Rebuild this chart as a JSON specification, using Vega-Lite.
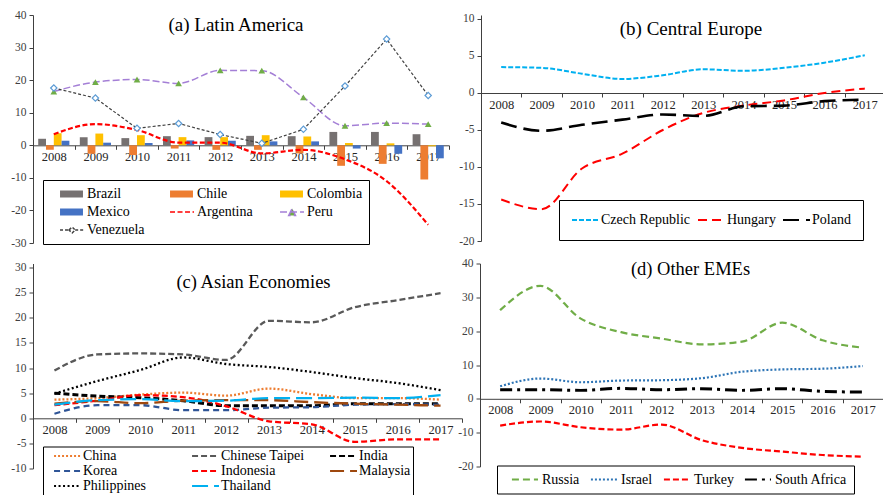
{
"$schema": "https://vega.github.io/schema/vega-lite/v6.json",
"background": "white",
"padding": {"left": 10, "top": 9, "right": 0, "bottom": 0},
"config": {
  "view": {"stroke": null},
  "font": "Liberation Serif",
  "axisX": {"labelFont": "Liberation Serif", "labelFontSize": 12.5, "labelAngle": 0, "tickBand": "extent", "tickSize": 4, "labelPadding": 1, "domainColor": "#404040", "tickColor": "#404040", "labelColor": "#262626", "grid": false},
  "axisY": {"labelFont": "Liberation Serif", "labelFontSize": 11.5, "tickSize": 4, "labelPadding": 3, "domainColor": "#404040", "tickColor": "#404040", "labelColor": "#404040", "grid": false, "labelExpr": "'' + datum.value"}
},
"datasets": {
"la": [
{"year":"2008","series":"Brazil","value":2.0},{"year":"2009","series":"Brazil","value":2.5},{"year":"2010","series":"Brazil","value":2.2},{"year":"2011","series":"Brazil","value":2.8},{"year":"2012","series":"Brazil","value":2.5},{"year":"2013","series":"Brazil","value":2.9},{"year":"2014","series":"Brazil","value":2.8},{"year":"2015","series":"Brazil","value":4.1},{"year":"2016","series":"Brazil","value":4.1},{"year":"2017","series":"Brazil","value":3.4},
{"year":"2008","series":"Chile","value":-1.4},{"year":"2009","series":"Chile","value":-2.6},{"year":"2010","series":"Chile","value":-3.0},{"year":"2011","series":"Chile","value":-1.0},{"year":"2012","series":"Chile","value":-1.4},{"year":"2013","series":"Chile","value":-1.4},{"year":"2014","series":"Chile","value":-2.5},{"year":"2015","series":"Chile","value":-6.3},{"year":"2016","series":"Chile","value":-5.7},{"year":"2017","series":"Chile","value":-10.5},
{"year":"2008","series":"Colombia","value":3.7},{"year":"2009","series":"Colombia","value":3.6},{"year":"2010","series":"Colombia","value":3.1},{"year":"2011","series":"Colombia","value":2.5},{"year":"2012","series":"Colombia","value":2.5},{"year":"2013","series":"Colombia","value":3.1},{"year":"2014","series":"Colombia","value":2.7},{"year":"2015","series":"Colombia","value":0.7},{"year":"2016","series":"Colombia","value":0.6},{"year":"2017","series":"Colombia","value":-0.3},
{"year":"2008","series":"Mexico","value":1.4},{"year":"2009","series":"Mexico","value":0.8},{"year":"2010","series":"Mexico","value":0.7},{"year":"2011","series":"Mexico","value":1.5},{"year":"2012","series":"Mexico","value":1.4},{"year":"2013","series":"Mexico","value":1.2},{"year":"2014","series":"Mexico","value":1.2},{"year":"2015","series":"Mexico","value":-1.0},{"year":"2016","series":"Mexico","value":-2.6},{"year":"2017","series":"Mexico","value":-4.0},
{"year":"2008","series":"Argentina","value":3.4},{"year":"2009","series":"Argentina","value":6.5},{"year":"2010","series":"Argentina","value":4.7},{"year":"2011","series":"Argentina","value":0.8},{"year":"2012","series":"Argentina","value":0.8},{"year":"2013","series":"Argentina","value":-2.5},{"year":"2014","series":"Argentina","value":-1.4},{"year":"2015","series":"Argentina","value":-4.3},{"year":"2016","series":"Argentina","value":-11.0},{"year":"2017","series":"Argentina","value":-24.4},
{"year":"2008","series":"Peru","value":16.5},{"year":"2009","series":"Peru","value":19.4},{"year":"2010","series":"Peru","value":20.2},{"year":"2011","series":"Peru","value":19.0},{"year":"2012","series":"Peru","value":23.0},{"year":"2013","series":"Peru","value":22.9},{"year":"2014","series":"Peru","value":14.7},{"year":"2015","series":"Peru","value":6.0},{"year":"2016","series":"Peru","value":6.8},{"year":"2017","series":"Peru","value":6.5},
{"year":"2008","series":"Venezuela","value":17.6},{"year":"2009","series":"Venezuela","value":14.5},{"year":"2010","series":"Venezuela","value":5.2},{"year":"2011","series":"Venezuela","value":6.7},{"year":"2012","series":"Venezuela","value":3.3},{"year":"2013","series":"Venezuela","value":0.6},{"year":"2014","series":"Venezuela","value":4.9},{"year":"2015","series":"Venezuela","value":18.2},{"year":"2016","series":"Venezuela","value":32.6},{"year":"2017","series":"Venezuela","value":15.3}
],
"ce": [
{"year":"2008","series":"Czech Republic","value":3.5},{"year":"2009","series":"Czech Republic","value":3.4},{"year":"2010","series":"Czech Republic","value":2.6},{"year":"2011","series":"Czech Republic","value":1.9},{"year":"2012","series":"Czech Republic","value":2.4},{"year":"2013","series":"Czech Republic","value":3.2},{"year":"2014","series":"Czech Republic","value":3.0},{"year":"2015","series":"Czech Republic","value":3.4},{"year":"2016","series":"Czech Republic","value":4.1},{"year":"2017","series":"Czech Republic","value":5.1},
{"year":"2008","series":"Hungary","value":-14.4},{"year":"2009","series":"Hungary","value":-15.7},{"year":"2010","series":"Hungary","value":-10.2},{"year":"2011","series":"Hungary","value":-8.2},{"year":"2012","series":"Hungary","value":-5.0},{"year":"2013","series":"Hungary","value":-2.7},{"year":"2014","series":"Hungary","value":-1.7},{"year":"2015","series":"Hungary","value":-1.0},{"year":"2016","series":"Hungary","value":0.0},{"year":"2017","series":"Hungary","value":0.6},
{"year":"2008","series":"Poland","value":-4.0},{"year":"2009","series":"Poland","value":-5.1},{"year":"2010","series":"Poland","value":-4.3},{"year":"2011","series":"Poland","value":-3.6},{"year":"2012","series":"Poland","value":-2.9},{"year":"2013","series":"Poland","value":-3.1},{"year":"2014","series":"Poland","value":-1.8},{"year":"2015","series":"Poland","value":-1.7},{"year":"2016","series":"Poland","value":-1.1},{"year":"2017","series":"Poland","value":-0.9}
],
"asia": [
{"year":"2008","series":"China","value":3.7},{"year":"2009","series":"China","value":4.0},{"year":"2010","series":"China","value":4.7},{"year":"2011","series":"China","value":5.1},{"year":"2012","series":"China","value":4.5},{"year":"2013","series":"China","value":5.9},{"year":"2014","series":"China","value":4.8},{"year":"2015","series":"China","value":4.0},{"year":"2016","series":"China","value":4.0},{"year":"2017","series":"China","value":3.7},
{"year":"2008","series":"Chinese Taipei","value":9.5},{"year":"2009","series":"Chinese Taipei","value":12.7},{"year":"2010","series":"Chinese Taipei","value":12.9},{"year":"2011","series":"Chinese Taipei","value":12.7},{"year":"2012","series":"Chinese Taipei","value":11.6},{"year":"2013","series":"Chinese Taipei","value":19.4},{"year":"2014","series":"Chinese Taipei","value":19.1},{"year":"2015","series":"Chinese Taipei","value":22.1},{"year":"2016","series":"Chinese Taipei","value":23.5},{"year":"2017","series":"Chinese Taipei","value":24.9},
{"year":"2008","series":"India","value":5.0},{"year":"2009","series":"India","value":4.4},{"year":"2010","series":"India","value":4.1},{"year":"2011","series":"India","value":3.5},{"year":"2012","series":"India","value":2.5},{"year":"2013","series":"India","value":2.5},{"year":"2014","series":"India","value":2.5},{"year":"2015","series":"India","value":2.9},{"year":"2016","series":"India","value":2.9},{"year":"2017","series":"India","value":2.9},
{"year":"2008","series":"Korea","value":0.9},{"year":"2009","series":"Korea","value":2.6},{"year":"2010","series":"Korea","value":2.6},{"year":"2011","series":"Korea","value":1.6},{"year":"2012","series":"Korea","value":1.6},{"year":"2013","series":"Korea","value":2.1},{"year":"2014","series":"Korea","value":2.2},{"year":"2015","series":"Korea","value":2.7},{"year":"2016","series":"Korea","value":2.8},{"year":"2017","series":"Korea","value":2.7},
{"year":"2008","series":"Indonesia","value":2.6},{"year":"2009","series":"Indonesia","value":3.5},{"year":"2010","series":"Indonesia","value":4.6},{"year":"2011","series":"Indonesia","value":4.2},{"year":"2012","series":"Indonesia","value":2.4},{"year":"2013","series":"Indonesia","value":-0.6},{"year":"2014","series":"Indonesia","value":-1.2},{"year":"2015","series":"Indonesia","value":-4.7},{"year":"2016","series":"Indonesia","value":-4.2},{"year":"2017","series":"Indonesia","value":-4.2},
{"year":"2008","series":"Malaysia","value":2.9},{"year":"2009","series":"Malaysia","value":3.4},{"year":"2010","series":"Malaysia","value":3.0},{"year":"2011","series":"Malaysia","value":3.5},{"year":"2012","series":"Malaysia","value":3.6},{"year":"2013","series":"Malaysia","value":3.6},{"year":"2014","series":"Malaysia","value":3.2},{"year":"2015","series":"Malaysia","value":2.9},{"year":"2016","series":"Malaysia","value":2.7},{"year":"2017","series":"Malaysia","value":2.5},
{"year":"2008","series":"Philippines","value":4.9},{"year":"2009","series":"Philippines","value":7.4},{"year":"2010","series":"Philippines","value":9.6},{"year":"2011","series":"Philippines","value":12.1},{"year":"2012","series":"Philippines","value":10.8},{"year":"2013","series":"Philippines","value":10.2},{"year":"2014","series":"Philippines","value":9.2},{"year":"2015","series":"Philippines","value":8.0},{"year":"2016","series":"Philippines","value":7.0},{"year":"2017","series":"Philippines","value":5.6},
{"year":"2008","series":"Thailand","value":2.7},{"year":"2009","series":"Thailand","value":3.6},{"year":"2010","series":"Thailand","value":3.8},{"year":"2011","series":"Thailand","value":3.4},{"year":"2012","series":"Thailand","value":3.5},{"year":"2013","series":"Thailand","value":4.0},{"year":"2014","series":"Thailand","value":4.0},{"year":"2015","series":"Thailand","value":4.1},{"year":"2016","series":"Thailand","value":4.0},{"year":"2017","series":"Thailand","value":4.6}
],
"other": [
{"year":"2008","series":"Russia","value":26.2},{"year":"2009","series":"Russia","value":33.4},{"year":"2010","series":"Russia","value":23.7},{"year":"2011","series":"Russia","value":19.7},{"year":"2012","series":"Russia","value":17.8},{"year":"2013","series":"Russia","value":16.1},{"year":"2014","series":"Russia","value":16.9},{"year":"2015","series":"Russia","value":22.5},{"year":"2016","series":"Russia","value":17.3},{"year":"2017","series":"Russia","value":15.1},
{"year":"2008","series":"Israel","value":3.7},{"year":"2009","series":"Israel","value":6.0},{"year":"2010","series":"Israel","value":4.9},{"year":"2011","series":"Israel","value":5.4},{"year":"2012","series":"Israel","value":5.5},{"year":"2013","series":"Israel","value":6.1},{"year":"2014","series":"Israel","value":8.0},{"year":"2015","series":"Israel","value":8.7},{"year":"2016","series":"Israel","value":8.9},{"year":"2017","series":"Israel","value":9.7},
{"year":"2008","series":"Turkey","value":-7.9},{"year":"2009","series":"Turkey","value":-6.7},{"year":"2010","series":"Turkey","value":-8.4},{"year":"2011","series":"Turkey","value":-9.1},{"year":"2012","series":"Turkey","value":-7.6},{"year":"2013","series":"Turkey","value":-12.2},{"year":"2014","series":"Turkey","value":-14.5},{"year":"2015","series":"Turkey","value":-15.6},{"year":"2016","series":"Turkey","value":-16.6},{"year":"2017","series":"Turkey","value":-17.1},
{"year":"2008","series":"South Africa","value":2.7},{"year":"2009","series":"South Africa","value":2.7},{"year":"2010","series":"South Africa","value":2.5},{"year":"2011","series":"South Africa","value":3.1},{"year":"2012","series":"South Africa","value":2.7},{"year":"2013","series":"South Africa","value":3.0},{"year":"2014","series":"South Africa","value":2.5},{"year":"2015","series":"South Africa","value":3.0},{"year":"2016","series":"South Africa","value":2.2},{"year":"2017","series":"South Africa","value":2.0}
]
},
"spacing": 8.5,
"resolve": {
  "scale": {"color": "independent", "strokeDash": "independent", "fill": "independent", "stroke": "independent", "shape": "independent"},
  "legend": {"color": "independent", "strokeDash": "independent", "fill": "independent", "stroke": "independent", "shape": "independent"}
},
"vconcat": [
{
"spacing": 8,
"resolve": {
  "scale": {"color": "independent", "strokeDash": "independent", "fill": "independent", "stroke": "independent", "shape": "independent"},
  "legend": {"color": "independent", "strokeDash": "independent", "fill": "independent", "stroke": "independent", "shape": "independent"}
},
"hconcat": [
{
  "width": 416, "height": 228,
  "data": {"name": "la"},
  "title": {"text": "(a) Latin America", "font": "Liberation Serif", "fontSize": 19, "fontWeight": "normal", "color": "#000000", "anchor": "middle", "frame": "group", "offset": -26, "dx": -5},
  "encoding": {
    "x": {"field": "year", "type": "ordinal", "title": null, "scale": {"type": "band", "paddingInner": 0, "paddingOuter": 0}, "axis": {"offset": -97.7}},
    "y": {"field": "value", "type": "quantitative", "title": null, "scale": {"domain": [-30, 40], "nice": false, "zero": false}, "axis": {"values": [-30, -20, -10, 0, 10, 20, 30, 40]}}
  },
  "layer": [
    {
      "transform": [{"filter": {"field": "series", "oneOf": ["Brazil", "Chile", "Colombia", "Mexico"]}}],
      "mark": {"type": "bar"},
      "encoding": {
        "xOffset": {"field": "series", "type": "nominal", "scale": {"domain": ["Brazil", "Chile", "Colombia", "Mexico"], "paddingInner": 0, "paddingOuter": 0.67}},
        "color": {"field": "series", "type": "nominal", "legend": null,
          "scale": {"domain": ["Brazil", "Chile", "Colombia", "Mexico"], "range": ["#767171", "#ED7D31", "#FFC000", "#4472C4"]}}
      }
    },
    {
      "transform": [{"filter": {"field": "series", "equal": "Argentina"}}],
      "mark": {"type": "line", "interpolate": "monotone", "color": "#FF0000", "strokeDash": [5, 2.5], "strokeWidth": 2.2},
      "encoding": {}
    },
    {
      "transform": [{"filter": {"field": "series", "equal": "Peru"}}],
      "mark": {"type": "line", "interpolate": "monotone", "color": "#A47FD6", "strokeDash": [7, 3], "strokeWidth": 1.5},
      "encoding": {}
    },
    {
      "transform": [{"filter": {"field": "series", "equal": "Venezuela"}}],
      "mark": {"type": "line", "color": "#404040", "strokeDash": [3, 2], "strokeWidth": 1.2},
      "encoding": {}
    },
    {
      "transform": [{"filter": {"field": "series", "equal": "Peru"}}],
      "mark": {"type": "point", "shape": "triangle-up", "filled": true, "color": "#70AD47", "size": 45, "opacity": 1},
      "encoding": {}
    },
    {
      "transform": [{"filter": {"field": "series", "equal": "Venezuela"}}],
      "mark": {"type": "point", "shape": "diamond", "filled": true, "fill": "#ffffff", "stroke": "#5B9BD5", "strokeWidth": 1.2, "size": 40, "opacity": 1},
      "encoding": {}
    },
    {
      "transform": [{"filter": "false"}],
      "mark": {"type": "point", "opacity": 1},
      "encoding": {
        "fill": {"field": "series", "type": "nominal",
          "scale": {"domain": ["Brazil", "Chile", "Colombia", "Mexico", "Argentina", "Peru", "Venezuela"], "range": ["#767171", "#ED7D31", "#FFC000", "#4472C4", "transparent", "#70AD47", "#ffffff"]},
          "legend": {"title": null, "orient": "none", "direction": "horizontal", "legendX": 10, "legendY": 165, "columns": 3, "gridAlign": "all", "columnPadding": 14, "rowPadding": 2, "clipHeight": 16, "padding": 6, "strokeColor": "#000000", "fillColor": "#ffffff", "labelFont": "Liberation Serif", "labelFontSize": 14, "labelColor": "#000000", "labelOffset": 2, "labelLimit": 300, "symbolSize": 1156, "symbolStrokeWidth": 1.5, "symbolOpacity": 1}},
        "stroke": {"field": "series", "type": "nominal",
          "scale": {"domain": ["Brazil", "Chile", "Colombia", "Mexico", "Argentina", "Peru", "Venezuela"], "range": ["transparent", "transparent", "transparent", "transparent", "#FF0000", "#A47FD6", "#404040"]},
          "legend": {"title": null, "orient": "none", "direction": "horizontal", "legendX": 10, "legendY": 165, "columns": 3, "gridAlign": "all", "columnPadding": 14, "rowPadding": 2, "clipHeight": 16, "padding": 6, "strokeColor": "#000000", "fillColor": "#ffffff", "labelFont": "Liberation Serif", "labelFontSize": 14, "labelColor": "#000000", "labelOffset": 2, "labelLimit": 300, "symbolSize": 1156, "symbolStrokeWidth": 1.5, "symbolOpacity": 1}},
        "shape": {"field": "series", "type": "nominal",
          "scale": {"domain": ["Brazil", "Chile", "Colombia", "Mexico", "Argentina", "Peru", "Venezuela"], "range": ["M-0.41,-0.21H0.94V0.21H-0.41Z", "M-0.41,-0.21H0.94V0.21H-0.41Z", "M-0.41,-0.21H0.94V0.21H-0.41Z", "M-0.41,-0.21H0.94V0.21H-0.41Z", "M-0.41,0H1", "M-0.41,0H1M0.1,0.2L0.3,-0.2L0.5,0.2Z", "M-0.41,0H0.12M0.48,0H1M0.12,0L0.3,-0.18L0.48,0L0.3,0.18Z"]},
          "legend": {"title": null, "orient": "none", "direction": "horizontal", "legendX": 10, "legendY": 165, "columns": 3, "gridAlign": "all", "columnPadding": 14, "rowPadding": 2, "clipHeight": 16, "padding": 6, "strokeColor": "#000000", "fillColor": "#ffffff", "labelFont": "Liberation Serif", "labelFontSize": 14, "labelColor": "#000000", "labelOffset": 2, "labelLimit": 300, "symbolSize": 1156, "symbolStrokeWidth": 1.5, "symbolOpacity": 1}},
        "strokeDash": {"field": "series", "type": "nominal",
          "scale": {"domain": ["Brazil", "Chile", "Colombia", "Mexico", "Argentina", "Peru", "Venezuela"], "range": [[1, 0], [1, 0], [1, 0], [1, 0], [5, 2.5], [7, 3], [3, 2]]},
          "legend": {"title": null, "orient": "none", "direction": "horizontal", "legendX": 10, "legendY": 165, "columns": 3, "gridAlign": "all", "columnPadding": 14, "rowPadding": 2, "clipHeight": 16, "padding": 6, "strokeColor": "#000000", "fillColor": "#ffffff", "labelFont": "Liberation Serif", "labelFontSize": 14, "labelColor": "#000000", "labelOffset": 2, "labelLimit": 300, "symbolSize": 1156, "symbolStrokeWidth": 1.5, "symbolOpacity": 1}}
      }
    }
  ]
},
{
  "width": 404, "height": 226,
  "data": {"name": "ce"},
  "title": {"text": "(b) Central Europe", "font": "Liberation Serif", "fontSize": 19, "fontWeight": "normal", "color": "#000000", "anchor": "middle", "frame": "group", "offset": -26, "dx": 8},
  "mark": {"type": "line", "interpolate": "monotone"},
  "encoding": {
    "x": {"field": "year", "type": "ordinal", "title": null, "scale": {"type": "band", "paddingInner": 0, "paddingOuter": 0}, "axis": {"offset": -148}},
    "y": {"field": "value", "type": "quantitative", "title": null, "scale": {"domain": [-20, 10.54], "nice": false, "zero": false}, "axis": {"values": [-20, -15, -10, -5, 0, 5, 10]}},
    "color": {"field": "series", "type": "nominal", "scale": {"domain": ["Czech Republic", "Hungary", "Poland"], "range": ["#00B0F0", "#FF0000", "#000000"]},
      "legend": {"title": null, "orient": "none", "direction": "horizontal", "legendX": 78, "legendY": 185, "columns": 3, "gridAlign": "none", "columnPadding": 6, "clipHeight": 16, "padding": 12, "strokeColor": "#000000", "fillColor": "#ffffff", "labelFont": "Liberation Serif", "labelFontSize": 14, "labelColor": "#000000", "labelOffset": 1, "labelLimit": 300, "symbolType": "stroke", "symbolSize": 729, "symbolStrokeWidth": 2}},
    "strokeDash": {"field": "series", "type": "nominal", "scale": {"domain": ["Czech Republic", "Hungary", "Poland"], "range": [[5, 2], [9, 5], [16, 7]]},
      "legend": {"title": null, "orient": "none", "direction": "horizontal", "legendX": 78, "legendY": 185, "columns": 3, "gridAlign": "none", "columnPadding": 6, "clipHeight": 16, "padding": 12, "strokeColor": "#000000", "fillColor": "#ffffff", "labelFont": "Liberation Serif", "labelFontSize": 14, "labelColor": "#000000", "labelOffset": 1, "labelLimit": 300, "symbolType": "stroke", "symbolSize": 729, "symbolStrokeWidth": 2}},
    "strokeWidth": {"condition": {"test": "datum.series === 'Poland'", "value": 2.6}, "value": 2}
  }
}
]
},
{
"spacing": -6,
"resolve": {
  "scale": {"color": "independent", "strokeDash": "independent", "fill": "independent", "stroke": "independent", "shape": "independent"},
  "legend": {"color": "independent", "strokeDash": "independent", "fill": "independent", "stroke": "independent", "shape": "independent"}
},
"hconcat": [
{
  "width": 429, "height": 205,
  "data": {"name": "asia"},
  "title": {"text": "(c) Asian Economies", "font": "Liberation Serif", "fontSize": 18.5, "fontWeight": "normal", "color": "#000000", "anchor": "middle", "frame": "group", "offset": -30, "dx": 6},
  "mark": {"type": "line", "interpolate": "monotone"},
  "encoding": {
    "x": {"field": "year", "type": "ordinal", "title": null, "scale": {"type": "band", "paddingInner": 0, "paddingOuter": 0}, "axis": {"offset": -50.2}},
    "y": {"field": "value", "type": "quantitative", "title": null, "scale": {"domain": [-10, 30.8], "nice": false, "zero": false}, "axis": {"values": [-10, -5, 0, 5, 10, 15, 20, 25, 30]}},
    "color": {"field": "series", "type": "nominal", "scale": {"domain": ["China", "Chinese Taipei", "India", "Korea", "Indonesia", "Malaysia", "Philippines", "Thailand"], "range": ["#ED7D31", "#595959", "#000000", "#2F5597", "#FF0000", "#9E480E", "#000000", "#00B0F0"]},
      "legend": {"title": null, "orient": "none", "direction": "horizontal", "legendX": 10, "legendY": 183, "columns": 3, "gridAlign": "all", "columnPadding": 16, "rowPadding": 0, "clipHeight": 15, "padding": 2, "strokeColor": "#000000", "fillColor": "#ffffff", "labelFont": "Liberation Serif", "labelFontSize": 14, "labelColor": "#000000", "labelOffset": 1, "labelLimit": 300, "symbolType": "M-0.54,0H1", "symbolSize": 1225, "symbolStrokeWidth": 2}},
    "strokeDash": {"field": "series", "type": "nominal", "scale": {"domain": ["China", "Chinese Taipei", "India", "Korea", "Indonesia", "Malaysia", "Philippines", "Thailand"], "range": [[2, 2], [6, 3], [6, 3], [6, 4], [6, 3], [14, 6], [2, 2.5], [16, 6]]},
      "legend": {"title": null, "orient": "none", "direction": "horizontal", "legendX": 10, "legendY": 183, "columns": 3, "gridAlign": "all", "columnPadding": 16, "rowPadding": 0, "clipHeight": 15, "padding": 2, "strokeColor": "#000000", "fillColor": "#ffffff", "labelFont": "Liberation Serif", "labelFontSize": 14, "labelColor": "#000000", "labelOffset": 1, "labelLimit": 300, "symbolType": "M-0.54,0H1", "symbolSize": 1225, "symbolStrokeWidth": 2}},
    "strokeWidth": {"condition": {"test": "datum.series === 'India'", "value": 3}, "value": 2.3}
  }
},
{
  "width": 403, "height": 203,
  "data": {"name": "other"},
  "title": {"text": "(d) Other EMEs", "font": "Liberation Serif", "fontSize": 18.5, "fontWeight": "normal", "color": "#000000", "anchor": "middle", "frame": "group", "offset": -21, "dx": 9},
  "mark": {"type": "line", "interpolate": "monotone"},
  "encoding": {
    "x": {"field": "year", "type": "ordinal", "title": null, "scale": {"type": "band", "paddingInner": 0, "paddingOuter": 0}, "axis": {"offset": -67.7}},
    "y": {"field": "value", "type": "quantitative", "title": null, "scale": {"domain": [-20, 40], "nice": false, "zero": false}, "axis": {"values": [-20, -10, 0, 10, 20, 30, 40]}},
    "color": {"field": "series", "type": "nominal", "scale": {"domain": ["Russia", "Israel", "Turkey", "South Africa"], "range": ["#70AD47", "#2E75B6", "#FF0000", "#000000"]},
      "legend": {"title": null, "orient": "none", "direction": "horizontal", "legendX": 17, "legendY": 202, "columns": 4, "gridAlign": "none", "columnPadding": 3, "clipHeight": 14, "padding": 7, "strokeColor": "#000000", "fillColor": "#ffffff", "labelFont": "Liberation Serif", "labelFontSize": 14, "labelColor": "#000000", "labelOffset": 3, "labelLimit": 300, "symbolType": "M-0.58,0H1", "symbolSize": 1089, "symbolStrokeWidth": 2}},
    "strokeDash": {"field": "series", "type": "nominal", "scale": {"domain": ["Russia", "Israel", "Turkey", "South Africa"], "range": [[7, 4], [2, 2], [6, 3], [12, 5, 3, 5]]},
      "legend": {"title": null, "orient": "none", "direction": "horizontal", "legendX": 17, "legendY": 202, "columns": 4, "gridAlign": "none", "columnPadding": 3, "clipHeight": 14, "padding": 7, "strokeColor": "#000000", "fillColor": "#ffffff", "labelFont": "Liberation Serif", "labelFontSize": 14, "labelColor": "#000000", "labelOffset": 3, "labelLimit": 300, "symbolType": "M-0.58,0H1", "symbolSize": 1089, "symbolStrokeWidth": 2}},
    "strokeWidth": {"condition": {"test": "datum.series === 'South Africa'", "value": 3}, "value": 2.2}
  }
}
]
}
]
}
